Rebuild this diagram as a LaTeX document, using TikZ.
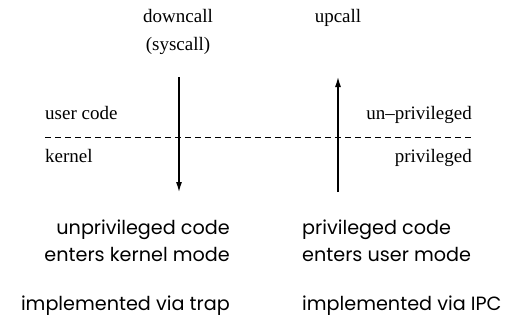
\documentclass[tikz,border=0pt]{standalone}
\usepackage{fontspec}
\setmainfont{Liberation Serif}
\newfontfamily\gothic{Poppins}
\usetikzlibrary{arrows.meta}

\begin{document}
\begin{tikzpicture}[x=1pt,y=-1pt,
  serif/.style={inner sep=0pt,anchor=base,font=\fontsize{19}{22}\selectfont},
  geo/.style={inner sep=0pt,font=\gothic\fontsize{19.2}{22}\selectfont},
  call/.style={line width=1.2,-{Latex[length=10pt,width=6pt]}}]
\useasboundingbox (0,0) rectangle (511,332);

\node (down) at (178,23) [serif] {downcall};
\node (sys) at (178,50) [serif] {(syscall)};
\node (up) at (338,23) [serif] {upcall};

\coordinate (dtop) at (179,77);
\coordinate (dbot) at (179,192);
\coordinate (utop) at (338,77);
\coordinate (ubot) at (338,192);
\draw[call] (dtop)--(dbot);
\draw[call] (ubot)--(utop);

\coordinate (bl) at (45,137);
\coordinate (br) at (472,137);
\draw[dashed,line width=0.8,dash pattern=on 6pt off 4pt] (bl)--(br);

\node (user) at (45,119) [serif,anchor=base west] {user code};
\node (kern) at (45,162) [serif,anchor=base west] {kernel};
\node (unpriv) at (472,119) [serif,anchor=base east] {un--privileged};
\node (priv) at (472,162) [serif,anchor=base east] {privileged};

\node (l1) at (230,234) [geo,anchor=base east] {unprivileged code};
\node (l2) at (230,261) [geo,anchor=base east] {enters kernel mode};
\node (l3) at (230,310) [geo,anchor=base east] {implemented via trap};
\node (r1) at (302,234) [geo,anchor=base west] {privileged code};
\node (r2) at (302,261) [geo,anchor=base west] {enters user mode};
\node (r3) at (302,310) [geo,anchor=base west] {implemented via IPC};

\end{tikzpicture}
\end{document}
